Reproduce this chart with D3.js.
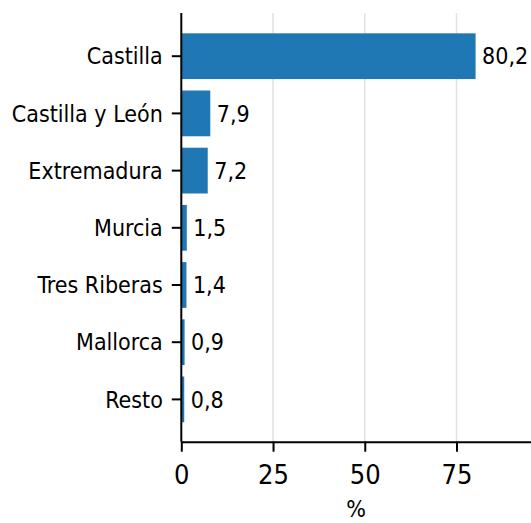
<!DOCTYPE html>
<html>
<head>
<meta charset="utf-8">
<script src="https://cdn.jsdelivr.net/npm/d3@7"></script>
<style>
  body { margin: 0; background: #fff; }
  svg text { font-family: "DejaVu Sans Condensed", "DejaVu Sans", sans-serif; font-stretch: condensed; fill: #000; }
</style>
</head>
<body>
<div id="chart"></div>
<script>
var width = 531;
var height = 523;

var regions = ["Castilla", "Castilla y León", "Extremadura", "Murcia", "Tres Riberas", "Mallorca", "Resto"];
var shares = [80.2, 7.9, 7.2, 1.5, 1.4, 0.9, 0.8];
var xTicks = [0, 25, 50, 75];

var data = regions.map(function(r, i) { return {name: r, value: shares[i]}; });

var plot = {left: 181.3, right: 531, top: 13, bottom: 441.7};

var svg = d3.select("#chart")
  .append("svg")
  .attr("width", width)
  .attr("height", height);

var xScale = d3.scaleLinear()
  .domain([0, 95.3])
  .range([plot.left, plot.right]);

var yScale = d3.scaleBand()
  .domain(regions)
  .range([27.6, 428])
  .paddingInner(0.2)
  .paddingOuter(0.1);

// grid lines
svg.append("g")
  .selectAll("line")
  .data(xTicks.slice(1))
  .enter()
  .append("line")
    .attr("x1", function(d) { return xScale(d); })
    .attr("x2", function(d) { return xScale(d); })
    .attr("y1", plot.top)
    .attr("y2", plot.bottom)
    .attr("stroke", "#e3e3e3")
    .attr("stroke-width", 1.6);

// bars
svg.append("g")
  .selectAll("rect")
  .data(data)
  .enter()
  .append("rect")
    .attr("x", xScale(0))
    .attr("y", function(d) { return yScale(d.name); })
    .attr("width", function(d) { return xScale(d.value) - xScale(0); })
    .attr("height", yScale.bandwidth())
    .attr("fill", "#1f77b4");

// value labels
svg.append("g")
  .selectAll("text")
  .data(data)
  .enter()
  .append("text")
    .attr("x", function(d) { return xScale(d.value) + 6.5; })
    .attr("y", function(d) { return yScale(d.name) + yScale.bandwidth() / 2; })
    .attr("dy", "0.36em")
    .style("font-size", "23px")
    .text(function(d) { return d3.format(".1f")(d.value).replace(".", ","); });

// y axis
var yAxis = svg.append("g")
  .attr("transform", "translate(" + plot.left + ",0)")
  .call(d3.axisLeft(yScale).tickSize(9.5).tickPadding(9).tickSizeOuter(0));
yAxis.select(".domain").attr("d", "M0," + plot.top + "V" + plot.bottom);
yAxis.selectAll("path, line").attr("stroke", "#000").attr("stroke-width", 2);
yAxis.selectAll("text").style("font-size", "23px").attr("dy", "0.36em");

// x axis
var xAxis = svg.append("g")
  .attr("transform", "translate(0," + plot.bottom + ")")
  .call(d3.axisBottom(xScale).tickValues(xTicks).tickSize(10).tickPadding(13).tickSizeOuter(0));
xAxis.selectAll("path, line").attr("stroke", "#000").attr("stroke-width", 2);
xAxis.selectAll("text").style("font-size", "27px");

svg.append("text")
  .attr("x", (plot.left + plot.right) / 2)
  .attr("y", 517)
  .attr("text-anchor", "middle")
  .style("font-size", "23px")
  .text("%");
</script>
</body>
</html>
